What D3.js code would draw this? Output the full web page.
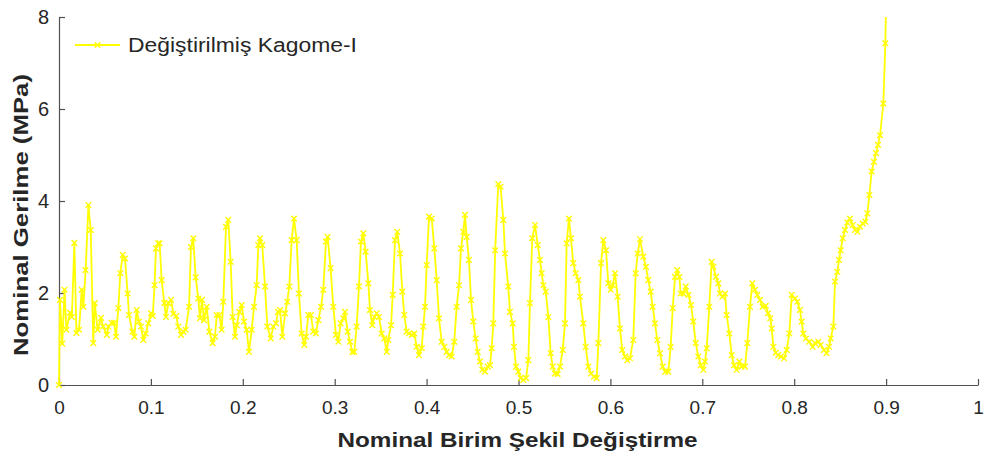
<!DOCTYPE html>
<html>
<head>
<meta charset="utf-8">
<script src="https://cdn.jsdelivr.net/npm/d3@7/dist/d3.min.js"></script>
<style>
  html, body { margin: 0; padding: 0; background: #ffffff; }
  svg { display: block; }
</style>
</head>
<body>
<svg id="chart" width="987" height="461"></svg>
<script>
// Stress–strain curve of the modified Kagome-I lattice
const seriesName = "Değiştirilmiş Kagome-I";
const xTitle = "Nominal Birim Şekil Değiştirme";
const yTitle = "Nominal Gerilme (MPa)";
const xTickValues = [0, 0.1, 0.2, 0.3, 0.4, 0.5, 0.6, 0.7, 0.8, 0.9, 1];
const xTickLabels = ["0", "0.1", "0.2", "0.3", "0.4", "0.5", "0.6", "0.7", "0.8", "0.9", "1"];
const yTickValues = [0, 2, 4, 6, 8];
const yTickLabels = ["0", "2", "4", "6", "8"];

// nominal strain
const strain = [
  0.0000, 0.0010, 0.0036, 0.0060, 0.0080, 0.0120, 0.0140, 0.0167, 0.0190, 0.0218,
  0.0247, 0.0265, 0.0290, 0.0320, 0.0345, 0.0373, 0.0390, 0.0420, 0.0457, 0.0480,
  0.0520, 0.0537, 0.0573, 0.0600, 0.0620, 0.0646, 0.0667, 0.0693, 0.0718, 0.0747,
  0.0762, 0.0798, 0.0820, 0.0845, 0.0870, 0.0892, 0.0918, 0.0943, 0.0972, 0.1001,
  0.1020, 0.1040, 0.1055, 0.1080, 0.1095, 0.1117, 0.1146, 0.1164, 0.1190, 0.1219,
  0.1245, 0.1275, 0.1298, 0.1328, 0.1353, 0.1378, 0.1415, 0.1436, 0.1461, 0.1487,
  0.1516, 0.1534, 0.1556, 0.1578, 0.1607, 0.1636, 0.1672, 0.1697, 0.1716, 0.1744,
  0.1770, 0.1788, 0.1817, 0.1842, 0.1868, 0.1890, 0.1915, 0.1934, 0.1962, 0.1988,
  0.2013, 0.2042, 0.2067, 0.2097, 0.2122, 0.2151, 0.2169, 0.2187, 0.2212, 0.2242,
  0.2267, 0.2304, 0.2332, 0.2361, 0.2383, 0.2405, 0.2430, 0.2460, 0.2484, 0.2506,
  0.2532, 0.2557, 0.2586, 0.2611, 0.2640, 0.2669, 0.2688, 0.2713, 0.2742, 0.2767,
  0.2796, 0.2822, 0.2851, 0.2876, 0.2905, 0.2923, 0.2955, 0.2985, 0.3014, 0.3039,
  0.3065, 0.3094, 0.3112, 0.3141, 0.3166, 0.3192, 0.3213, 0.3239, 0.3264, 0.3286,
  0.3311, 0.3337, 0.3366, 0.3384, 0.3409, 0.3431, 0.3457, 0.3482, 0.3511, 0.3540,
  0.3566, 0.3583, 0.3613, 0.3631, 0.3656, 0.3681, 0.3711, 0.3736, 0.3757, 0.3783,
  0.3808, 0.3838, 0.3866, 0.3892, 0.3917, 0.3947, 0.3964, 0.3983, 0.4001, 0.4026,
  0.4056, 0.4084, 0.4110, 0.4135, 0.4164, 0.4193, 0.4219, 0.4244, 0.4273, 0.4301,
  0.4327, 0.4353, 0.4374, 0.4399, 0.4418, 0.4436, 0.4461, 0.4483, 0.4508, 0.4534,
  0.4556, 0.4581, 0.4606, 0.4635, 0.4665, 0.4690, 0.4708, 0.4726, 0.4746, 0.4780,
  0.4805, 0.4835, 0.4853, 0.4889, 0.4907, 0.4937, 0.4951, 0.4973, 0.4998, 0.5024,
  0.5052, 0.5082, 0.5107, 0.5125, 0.5150, 0.5180, 0.5209, 0.5234, 0.5252, 0.5270,
  0.5296, 0.5325, 0.5350, 0.5372, 0.5397, 0.5426, 0.5452, 0.5481, 0.5506, 0.5524,
  0.5549, 0.5571, 0.5596, 0.5622, 0.5651, 0.5669, 0.5705, 0.5731, 0.5760, 0.5789,
  0.5822, 0.5851, 0.5869, 0.5898, 0.5923, 0.5952, 0.5977, 0.6003, 0.6025, 0.6050,
  0.6079, 0.6104, 0.6129, 0.6159, 0.6184, 0.6213, 0.6249, 0.6275, 0.6297, 0.6322,
  0.6358, 0.6387, 0.6412, 0.6438, 0.6460, 0.6485, 0.6510, 0.6540, 0.6569, 0.6597,
  0.6630, 0.6656, 0.6678, 0.6703, 0.6728, 0.6750, 0.6765, 0.6794, 0.6820, 0.6849,
  0.6877, 0.6902, 0.6928, 0.6957, 0.6983, 0.7011, 0.7029, 0.7048, 0.7076, 0.7102,
  0.7120, 0.7149, 0.7174, 0.7193, 0.7218, 0.7247, 0.7265, 0.7294, 0.7320, 0.7345,
  0.7374, 0.7403, 0.7428, 0.7465, 0.7490, 0.7519, 0.7544, 0.7573, 0.7599, 0.7628,
  0.7657, 0.7690, 0.7715, 0.7740, 0.7755, 0.7773, 0.7800, 0.7827, 0.7855, 0.7890,
  0.7918, 0.7947, 0.7973, 0.8009, 0.8034, 0.8063, 0.8081, 0.8099, 0.8128, 0.8164,
  0.8201, 0.8226, 0.8262, 0.8288, 0.8324, 0.8353, 0.8379, 0.8397, 0.8426, 0.8444,
  0.8469, 0.8487, 0.8506, 0.8528, 0.8553, 0.8578, 0.8607, 0.8637, 0.8662, 0.8687,
  0.8716, 0.8746, 0.8774, 0.8796, 0.8818, 0.8843, 0.8868, 0.8890, 0.8912, 0.8934,
  0.8970, 0.8992, 0.9000
];

// nominal stress, MPa
const stress = [
  0.00, 1.85, 0.90, 2.07, 1.20, 1.57, 1.48, 3.09, 1.13, 1.20,
  2.07, 1.70, 2.50, 3.91, 3.37, 0.91, 1.78, 1.20, 1.46, 1.27,
  1.09, 1.27, 1.35, 1.35, 1.05, 1.67, 2.43, 2.83, 2.75, 1.99,
  1.52, 1.16, 1.05, 1.63, 1.38, 1.27, 0.98, 1.12, 1.34, 1.56,
  1.50, 2.17, 2.97, 3.08, 3.08, 2.28, 1.78, 1.48, 1.78, 1.85,
  1.55, 1.50, 1.27, 1.09, 1.16, 1.20, 1.70, 3.00, 3.19, 2.34,
  1.88, 1.45, 1.85, 1.41, 1.70, 1.16, 0.91, 1.05, 1.52, 1.52,
  1.20, 1.81, 3.44, 3.59, 2.68, 1.48, 1.05, 1.30, 1.59, 1.74,
  1.38, 1.20, 0.72, 1.20, 1.70, 2.17, 3.04, 3.19, 3.04, 2.14,
  1.27, 1.01, 1.27, 1.34, 1.59, 1.63, 1.05, 1.56, 1.81, 2.14,
  3.15, 3.62, 3.15, 1.99, 1.12, 0.87, 1.05, 1.52, 1.52, 1.16,
  1.12, 1.41, 1.70, 2.07, 3.12, 3.22, 2.54, 1.70, 1.09, 0.94,
  1.34, 1.45, 1.59, 1.16, 0.94, 0.72, 0.72, 1.27, 2.14, 3.12,
  3.30, 2.90, 2.21, 1.63, 1.30, 1.48, 1.56, 1.48, 1.12, 1.01,
  0.72, 0.98, 1.30, 1.96, 3.15, 3.33, 2.86, 2.03, 1.52, 1.16,
  1.12, 1.09, 1.12, 0.83, 0.65, 0.80, 1.27, 1.70, 2.61, 3.66,
  3.62, 2.97, 2.28, 1.45, 0.94, 0.83, 0.72, 0.65, 0.62, 0.94,
  1.70, 2.17, 2.97, 3.33, 3.70, 3.22, 2.72, 1.85, 1.38, 1.01,
  0.72, 0.51, 0.33, 0.29, 0.40, 0.43, 0.80, 1.34, 2.93, 4.37,
  4.31, 3.59, 2.86, 2.14, 1.59, 1.34, 0.83, 0.40, 0.29, 0.15,
  0.11, 0.15, 0.54, 1.78, 3.19, 3.48, 3.04, 2.72, 2.43, 2.17,
  2.03, 1.48, 0.69, 0.40, 0.25, 0.24, 0.40, 0.76, 1.34, 3.08,
  3.62, 3.19, 2.65, 2.43, 2.28, 1.92, 1.34, 0.83, 0.40, 0.25,
  0.18, 0.15, 0.91, 2.65, 3.15, 2.93, 2.21, 2.07, 2.17, 2.43,
  1.92, 1.23, 0.76, 0.62, 0.54, 0.58, 0.98, 2.43, 2.86, 3.17,
  2.79, 2.57, 2.28, 2.03, 1.70, 1.34, 0.98, 0.69, 0.40, 0.29,
  0.29, 0.83, 1.67, 2.35, 2.50, 2.35, 1.99, 1.99, 2.14, 1.96,
  1.74, 1.38, 0.91, 0.62, 0.43, 0.33, 0.51, 0.80, 1.70, 2.68,
  2.57, 2.35, 2.21, 1.99, 1.92, 1.99, 1.52, 1.12, 0.65, 0.43,
  0.33, 0.51, 0.40, 0.40, 0.91, 1.70, 2.21, 2.07, 1.96, 1.85,
  1.70, 1.72, 1.56, 1.45, 1.23, 0.83, 0.70, 0.65, 0.62, 0.58,
  0.76, 1.12, 1.96, 1.88, 1.81, 1.63, 1.38, 1.12, 1.01, 0.94,
  0.83, 0.91, 0.94, 0.87, 0.76, 0.69, 0.83, 1.01, 1.27, 2.25,
  2.46, 2.72, 2.93, 3.19, 3.37, 3.53, 3.62, 3.48, 3.37, 3.33,
  3.44, 3.51, 3.55, 3.73, 4.13, 4.64, 4.85, 5.04, 5.22, 5.43,
  6.12, 7.43, 8.40
];

const lineColor = "#ffff00";
const axisColor = "#505050";
const textColor = "#262626";

const svg = d3.select("#chart");
const plot = { left: 59, right: 978, top: 17, bottom: 385 };

const x = d3.scaleLinear().domain([0, 1]).range([plot.left, plot.right]);
const y = d3.scaleLinear().domain([0, 8]).range([plot.bottom, plot.top]);

const data = strain.map((s, i) => ({ s, p: stress[i] }));

// keep the rising tail inside the top of the axes
svg.append("defs").append("clipPath").attr("id", "plot-clip")
  .append("rect")
  .attr("x", plot.left - 10).attr("y", plot.top)
  .attr("width", plot.right - plot.left + 20)
  .attr("height", plot.bottom - plot.top + 15);

// axes: inward ticks, left and bottom only
const xAxis = d3.axisBottom(x)
  .tickValues(xTickValues)
  .tickFormat((d, i) => xTickLabels[i])
  .tickSizeInner(-6).tickSizeOuter(0).tickPadding(16);

const yAxis = d3.axisLeft(y)
  .tickValues(yTickValues)
  .tickFormat((d, i) => yTickLabels[i])
  .tickSizeInner(-6).tickSizeOuter(0).tickPadding(10);

const gx = svg.append("g")
  .attr("transform", `translate(0,${plot.bottom})`)
  .call(xAxis);
const gy = svg.append("g")
  .attr("transform", `translate(${plot.left},0)`)
  .call(yAxis);

[gx, gy].forEach(g => {
  g.select(".domain").attr("stroke", axisColor).attr("stroke-width", 1.2);
  g.selectAll(".tick line").attr("stroke", axisColor).attr("stroke-width", 1.2);
  g.selectAll(".tick text")
    .attr("fill", textColor)
    .style("font-family", "'Liberation Sans', Arial, sans-serif");
});
gx.selectAll(".tick text").style("font-size", "19px");
gy.selectAll(".tick text").style("font-size", "20px");

// curve with x markers
const g = svg.append("g").attr("clip-path", "url(#plot-clip)");

g.append("path")
  .datum(data)
  .attr("fill", "none")
  .attr("stroke", lineColor)
  .attr("stroke-width", 1.8)
  .attr("stroke-linejoin", "round")
  .attr("d", d3.line().x(d => x(d.s)).y(d => y(d.p)));

const m = 2.8;
const crossPath = `M${-m},${-m}L${m},${m}M${-m},${m}L${m},${-m}`;
g.selectAll("path.mk")
  .data(data)
  .join("path")
  .attr("class", "mk")
  .attr("transform", d => `translate(${x(d.s)},${y(d.p)})`)
  .attr("d", crossPath)
  .attr("stroke", lineColor)
  .attr("stroke-width", 1.4)
  .attr("fill", "none");

// legend
const legend = svg.append("g").attr("transform", "translate(75,45)");
legend.append("line")
  .attr("x1", 0).attr("x2", 45).attr("y1", 0).attr("y2", 0)
  .attr("stroke", lineColor).attr("stroke-width", 1.8);
legend.append("path")
  .attr("transform", "translate(22.5,0)")
  .attr("d", crossPath)
  .attr("stroke", lineColor).attr("stroke-width", 1.4);
legend.append("text")
  .attr("x", 53).attr("y", 0).attr("dy", "0.35em")
  .attr("fill", textColor)
  .style("font-family", "'Liberation Sans', Arial, sans-serif")
  .style("font-size", "20px")
  .attr("textLength", 229).attr("lengthAdjust", "spacingAndGlyphs")
  .text(seriesName);

// axis titles
svg.append("text")
  .attr("x", (plot.left + plot.right) / 2 - 1).attr("y", 447)
  .attr("text-anchor", "middle")
  .attr("fill", textColor)
  .style("font-family", "'Liberation Sans', Arial, sans-serif")
  .style("font-size", "21px").style("font-weight", "bold")
  .attr("textLength", 360).attr("lengthAdjust", "spacingAndGlyphs")
  .text(xTitle);

svg.append("text")
  .attr("transform", `translate(28,${(plot.top + plot.bottom) / 2 + 14}) rotate(-90)`)
  .attr("text-anchor", "middle")
  .attr("fill", textColor)
  .style("font-family", "'Liberation Sans', Arial, sans-serif")
  .style("font-size", "21px").style("font-weight", "bold")
  .attr("textLength", 282).attr("lengthAdjust", "spacingAndGlyphs")
  .text(yTitle);
</script>
</body>
</html>
